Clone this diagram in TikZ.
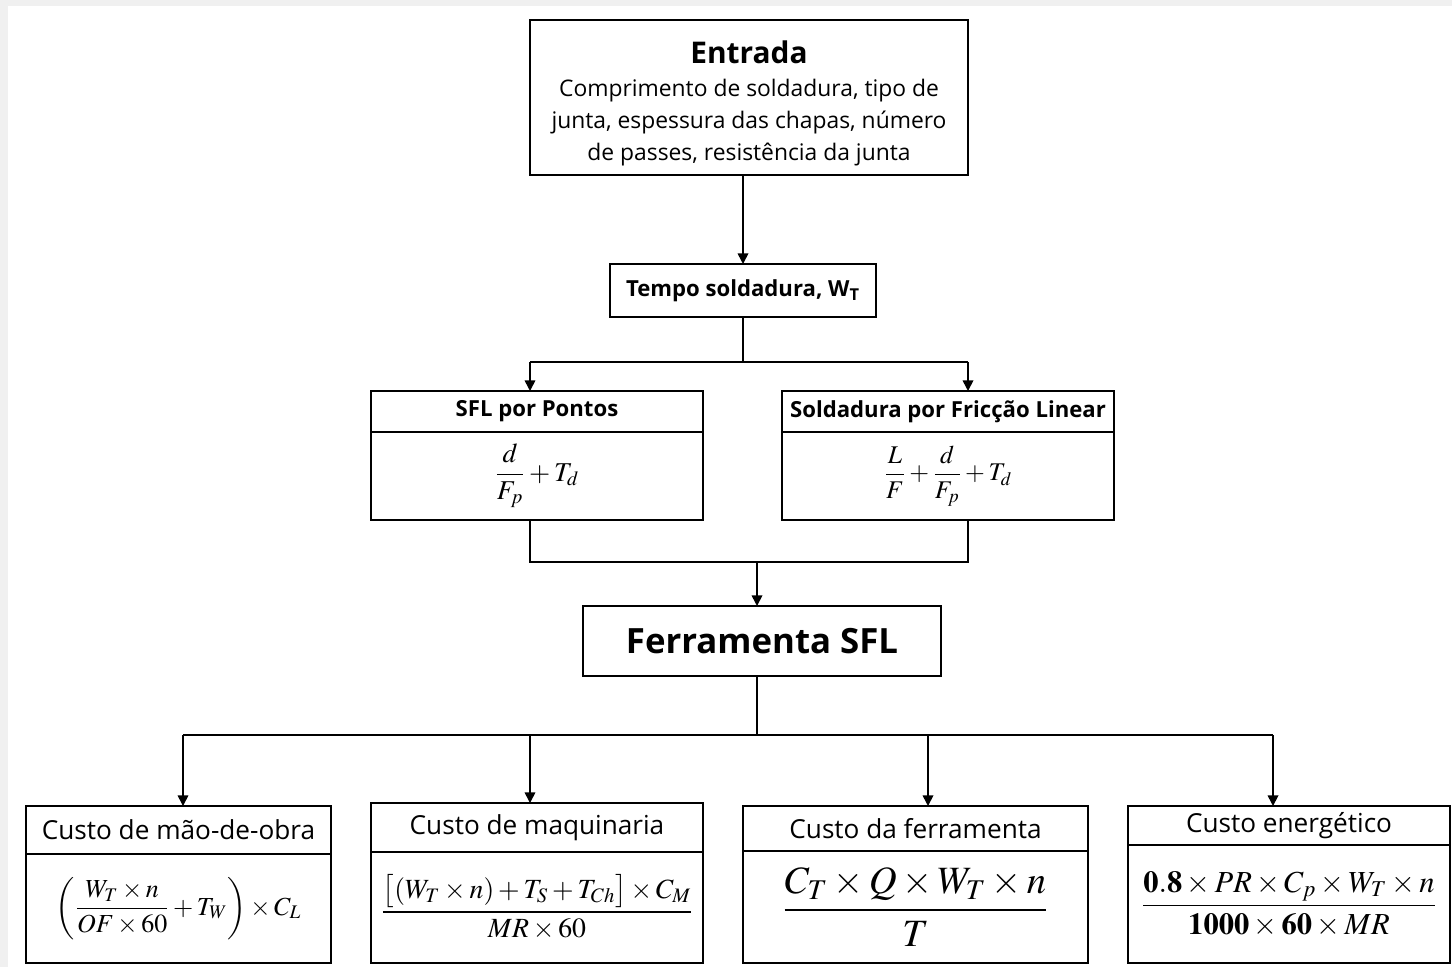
\documentclass[tikz,border=0pt]{standalone}
\usepackage{amsmath}
\usepackage{mathptmx}
\usepackage[no-math]{fontspec}
\setmainfont{Open Sans}
\usetikzlibrary{arrows.meta}
\definecolor{bgframe}{HTML}{F0F0F0}
\begin{document}
\begin{tikzpicture}[x=0.02cm, y=-0.02cm, >={Triangle[length=6pt,width=6pt]},
    box/.style={draw, line width=1.1pt, inner sep=0pt, outer sep=0pt, align=center},
    link/.style={line width=0.9pt},
    bold/.style={font=\fontsize{12.6}{15}\bfseries\selectfont},
    head/.style={font=\fontsize{14.9}{17}\selectfont}]
  \fill[bgframe] (0,0) rectangle (1452,967);
  \fill[white] (8,6) rectangle (1452,967);
  \useasboundingbox (0,0) rectangle (1452,967);
  % entrada e tempo
  \node[box, minimum width=8.76cm, minimum height=3.1cm, font=\fontsize{13}{18.1}\selectfont] (entrada) at (749,97.5)
    {\rule{0pt}{19.5pt}{\fontsize{17}{20}\bfseries\selectfont Entrada}\\[1pt]Comprimento de soldadura, tipo de\\junta, espessura das chapas, número\\de passes, resistência da junta};
  \node[box, bold, minimum width=5.32cm, minimum height=1.06cm] (tempo) at (743,290.5) {Tempo soldadura, W\textsubscript{T}};
  % processos
  \node[box, bold, minimum width=6.64cm, minimum height=0.82cm] (pontosH) at (537,411.5) {SFL por Pontos};
  \node[box, anchor=north, minimum width=6.64cm, minimum height=1.76cm, font=\fontsize{15.5}{17}\selectfont] (pontosB) at (pontosH.south) {$\dfrac{d}{F_p}+T_d$};
  \node[box, bold, minimum width=6.64cm, minimum height=0.82cm] (friccaoH) at (948,411.5) {Soldadura por Fricção Linear};
  \node[box, anchor=north, minimum width=6.64cm, minimum height=1.76cm, font=\fontsize{14.5}{16}\selectfont] (friccaoB) at (friccaoH.south) {$\dfrac{L}{F}+\dfrac{d}{F_p}+T_d$};
  \node[box, minimum width=7.16cm, minimum height=1.4cm, font=\fontsize{19.8}{23}\bfseries\selectfont] (ferr) at (762,641) {Ferramenta SFL};
  % custos
  \node[box, head, minimum width=6.1cm, minimum height=0.96cm] (obraH) at (178.5,830) {Custo de mão-de-obra};
  \node[box, anchor=north, minimum width=6.1cm, minimum height=2.18cm, font=\fontsize{14.8}{17}\selectfont] (obraB) at (obraH.south)
    {$\left(\dfrac{W_T\times n}{OF\times 60}+T_W\right)\times C_L$};
  \node[box, head, minimum width=6.64cm, minimum height=0.98cm] (maqH) at (537,827.5) {Custo de maquinaria};
  \node[box, anchor=north, minimum width=6.64cm, minimum height=2.22cm, font=\fontsize{15.8}{18}\selectfont] (maqB) at (maqH.south)
    {$\dfrac{\bigl[(W_T\times n)+T_S+T_{Ch}\bigr]\times C_M}{MR\times 60}$};
  \node[box, head, minimum width=6.9cm, minimum height=0.9cm] (ferrH) at (915.5,828.5) {Custo da ferramenta};
  \node[box, anchor=north, minimum width=6.9cm, minimum height=2.24cm, font=\fontsize{22}{24}\selectfont] (ferrB) at (ferrH.south)
    {$\dfrac{C_T\times Q\times W_T\times n}{T}$};
  \node[box, head, minimum width=6.44cm, minimum height=0.78cm] (energH) at (1289,825.5) {Custo energético};
  \node[box, anchor=north, minimum width=6.44cm, minimum height=2.36cm, font=\fontsize{17.4}{19}\selectfont] (energB) at (energH.south)
    {$\dfrac{\mathbf{0.8}\times PR\times C_p\times W_T\times n}{\mathbf{1000}\times \mathbf{60}\times MR}$};
  % ligacoes
  \coordinate (s1) at (743,362);
  \coordinate (s1l) at (530,362);
  \coordinate (s1r) at (968,362);
  \coordinate (m1l) at (530,562);
  \coordinate (m1r) at (968,562);
  \coordinate (m1) at (757,562);
  \coordinate (s2) at (757,735);
  \coordinate (c1) at (183,735);
  \coordinate (c2) at (530,735);
  \coordinate (c3) at (928,735);
  \coordinate (c4) at (1273,735);
  \draw[link,->] (tempo.north |- entrada.south) -- (tempo.north);
  \draw[link] (tempo.south) -- (s1) (s1l) -- (s1r);
  \draw[link,->] (s1l) -- (s1l |- pontosH.north);
  \draw[link,->] (s1r) -- (s1r |- friccaoH.north);
  \draw[link] (pontosB.south -| m1l) -- (m1l) -- (m1r) -- (friccaoB.south -| m1r);
  \draw[link,->] (m1) -- (m1 |- ferr.north);
  \draw[link] (ferr.south -| s2) -- (s2) (c1) -- (c4);
  \draw[link,->] (c1) -- (c1 |- obraH.north);
  \draw[link,->] (c2) -- (c2 |- maqH.north);
  \draw[link,->] (c3) -- (c3 |- ferrH.north);
  \draw[link,->] (c4) -- (c4 |- energH.north);
\end{tikzpicture}
\end{document}
